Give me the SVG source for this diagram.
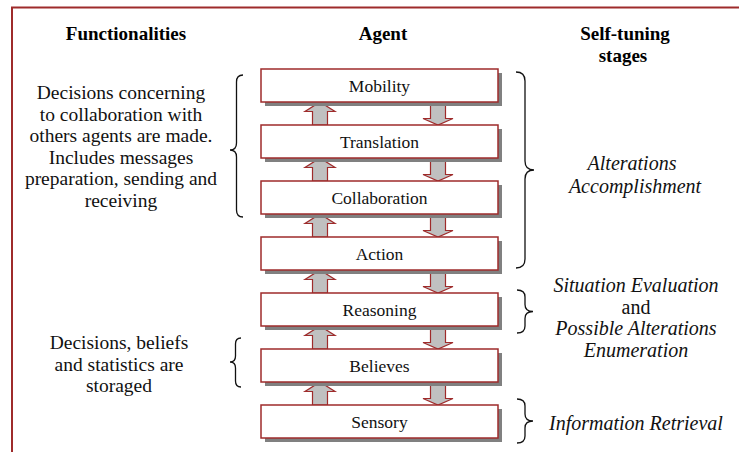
<svg xmlns="http://www.w3.org/2000/svg" width="739" height="452" viewBox="0 0 739 452">
<style>
text{font-family:'Liberation Serif','Times New Roman',Times,'DejaVu Serif',serif}
.frame{fill:none;stroke:#9e2b2b;stroke-width:2}
.shadow{fill:#808080}
.box{fill:#ffffff;stroke:#9e2b2b;stroke-width:1.5}
.lbl{font-size:17.5px;fill:#111;text-anchor:middle}
.hdr{font-size:19px;font-weight:bold;fill:#000;text-anchor:middle}
.txt{font-size:19.5px;fill:#111;text-anchor:middle}
.itl{font-size:20px;font-style:italic;fill:#111;text-anchor:middle}
.arr{fill:#c0c0c0;stroke:#9e2b2b;stroke-width:1.2;stroke-linejoin:miter}
.brace{fill:none;stroke:#111;stroke-width:1.3}
</style>
<rect width="739" height="452" fill="#ffffff"/>
<path class="frame" d="M12,452 V7.5 H739"/>

<g id="headers" font-family="Liberation Serif, Times New Roman, serif">
<text class="hdr" x="126" y="40">Functionalities</text>
<text class="hdr" x="383" y="40">Agent</text>
<text class="hdr" x="625" y="40">Self-tuning</text>
<text class="hdr" x="623" y="62">stages</text>
</g>

<g id="connectors">
<polygon class="arr" points="320,102 335,111.5 327.5,111.5 327.5,125 312.5,125 312.5,111.5 305,111.5"/>
<polygon class="arr" points="430.5,102 445.5,102 445.5,118.5 453,118.5 438,125 423,118.5 430.5,118.5"/>
<polygon class="arr" points="320,158 335,167.5 327.5,167.5 327.5,181 312.5,181 312.5,167.5 305,167.5"/>
<polygon class="arr" points="430.5,158 445.5,158 445.5,174.5 453,174.5 438,181 423,174.5 430.5,174.5"/>
<polygon class="arr" points="320,214 335,223.5 327.5,223.5 327.5,237 312.5,237 312.5,223.5 305,223.5"/>
<polygon class="arr" points="430.5,214 445.5,214 445.5,230.5 453,230.5 438,237 423,230.5 430.5,230.5"/>
<polygon class="arr" points="320,270 335,279.5 327.5,279.5 327.5,293 312.5,293 312.5,279.5 305,279.5"/>
<polygon class="arr" points="430.5,270 445.5,270 445.5,286.5 453,286.5 438,293 423,286.5 430.5,286.5"/>
<polygon class="arr" points="320,326 335,335.5 327.5,335.5 327.5,349 312.5,349 312.5,335.5 305,335.5"/>
<polygon class="arr" points="430.5,326 445.5,326 445.5,342.5 453,342.5 438,349 423,342.5 430.5,342.5"/>
<polygon class="arr" points="320,382 335,391.5 327.5,391.5 327.5,405 312.5,405 312.5,391.5 305,391.5"/>
<polygon class="arr" points="430.5,382 445.5,382 445.5,398.5 453,398.5 438,405 423,398.5 430.5,398.5"/>
</g>

<g id="node-mobility">
<rect class="shadow" x="265" y="73" width="237" height="33"/>
<rect class="box" x="261" y="69" width="237" height="33"/>
<text class="lbl" x="379.5" y="91.5">Mobility</text>
</g>
<g id="node-translation">
<rect class="shadow" x="265" y="129" width="237" height="33"/>
<rect class="box" x="261" y="125" width="237" height="33"/>
<text class="lbl" x="379.5" y="147.5">Translation</text>
</g>
<g id="node-collaboration">
<rect class="shadow" x="265" y="185" width="237" height="33"/>
<rect class="box" x="261" y="181" width="237" height="33"/>
<text class="lbl" x="379.5" y="203.5">Collaboration</text>
</g>
<g id="node-action">
<rect class="shadow" x="265" y="241" width="237" height="33"/>
<rect class="box" x="261" y="237" width="237" height="33"/>
<text class="lbl" x="379.5" y="259.5">Action</text>
</g>
<g id="node-reasoning">
<rect class="shadow" x="265" y="297" width="237" height="33"/>
<rect class="box" x="261" y="293" width="237" height="33"/>
<text class="lbl" x="379.5" y="315.5">Reasoning</text>
</g>
<g id="node-believes">
<rect class="shadow" x="265" y="353" width="237" height="33"/>
<rect class="box" x="261" y="349" width="237" height="33"/>
<text class="lbl" x="379.5" y="371.5">Believes</text>
</g>
<g id="node-sensory">
<rect class="shadow" x="265" y="409" width="237" height="33"/>
<rect class="box" x="261" y="405" width="237" height="33"/>
<text class="lbl" x="379.5" y="427.5">Sensory</text>
</g>

<g id="functionality-collaboration">
<text class="txt" x="121" y="99">Decisions concerning</text>
<text class="txt" x="121" y="120.5">to collaboration with</text>
<text class="txt" x="121" y="142">others agents are made.</text>
<text class="txt" x="121" y="163.5">Includes messages</text>
<text class="txt" x="121" y="185">preparation, sending and</text>
<text class="txt" x="121" y="206.5">receiving</text>
<path class="brace" d="M243,75 Q236.5,75 236.5,82 L236.5,143 Q236.5,150 230,150 Q236.5,150 236.5,157 L236.5,210 Q236.5,217 243,217"/>
</g>

<g id="functionality-believes">
<text class="txt" x="119" y="349">Decisions, beliefs</text>
<text class="txt" x="119" y="370.5">and statistics are</text>
<text class="txt" x="119" y="392">storaged</text>
<path class="brace" d="M241,338 Q235.5,338 235.5,344 L235.5,356 Q235.5,362 230,362 Q235.5,362 235.5,368 L235.5,381 Q235.5,387 241,387"/>
</g>

<g id="stage-alterations">
<path class="brace" d="M516,72 Q525,72 525,81 L525,161 Q525,170 534,170 Q525,170 525,179 L525,259 Q525,268 516,268"/>
<text class="itl" x="632" y="170">Alterations</text>
<text class="itl" x="635" y="193">Accomplishment</text>
</g>

<g id="stage-situation">
<path class="brace" d="M517,290 Q525,290 525,297 L525,304.5 Q525,311.5 533,311.5 Q525,311.5 525,318.5 L525,326 Q525,333 517,333"/>
<text class="itl" x="636" y="292">Situation Evaluation</text>
<text class="txt" x="636" y="313.5" style="font-size:20px">and</text>
<text class="itl" x="636" y="335">Possible Alterations</text>
<text class="itl" x="636" y="356.5">Enumeration</text>
</g>

<g id="stage-information">
<path class="brace" d="M517,399 Q525,399 525,406 L525,414 Q525,421 533,421 Q525,421 525,428 L525,436 Q525,443 517,443"/>
<text class="itl" x="636" y="430">Information Retrieval</text>
</g>
</svg>
